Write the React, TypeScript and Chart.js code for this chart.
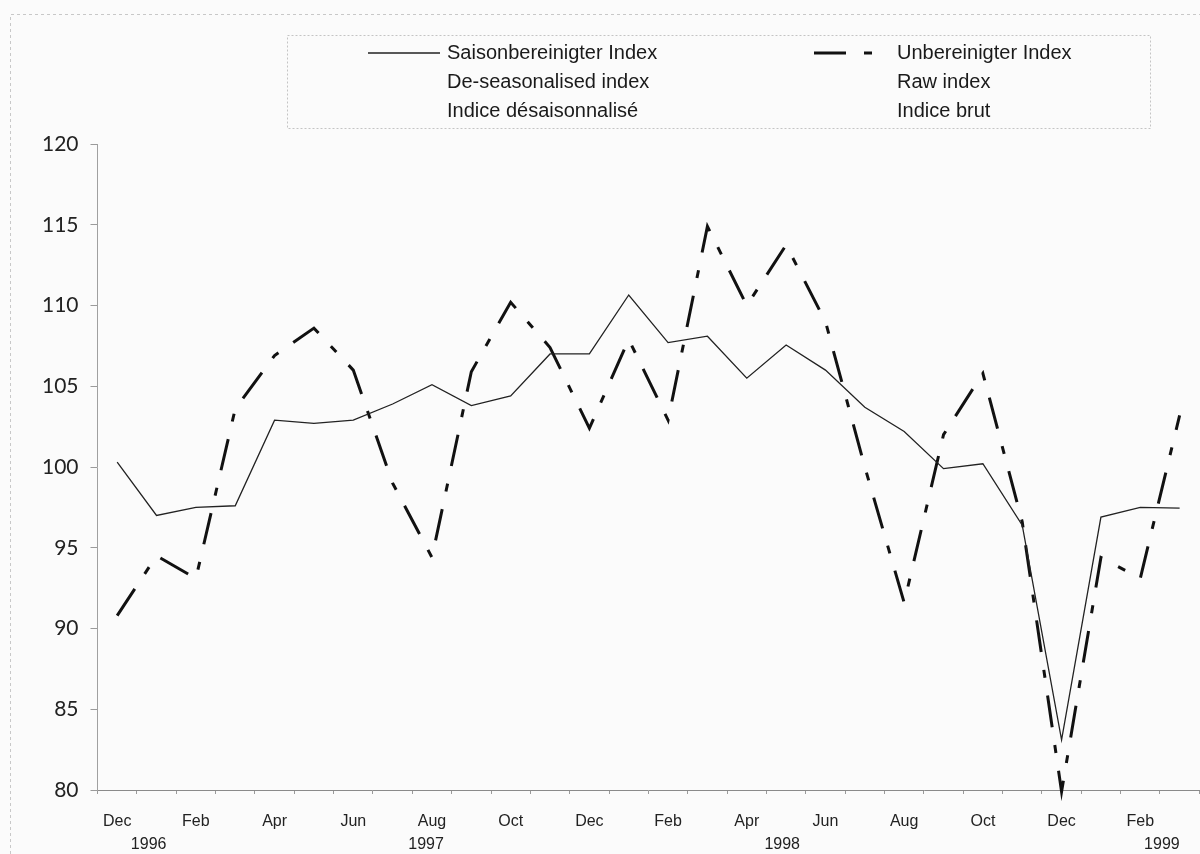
import React, { useEffect, useRef } from 'react';
import { Chart, registerables } from 'chart.js';

Chart.register(...registerables);

// Monthly categories, Dec 1996 .. Mar 1999
const monthLabels = [
  'Dec', 'Jan', 'Feb', 'Mar', 'Apr', 'May', 'Jun', 'Jul', 'Aug', 'Sep', 'Oct', 'Nov',
  'Dec', 'Jan', 'Feb', 'Mar', 'Apr', 'May', 'Jun', 'Jul', 'Aug', 'Sep', 'Oct', 'Nov',
  'Dec', 'Jan', 'Feb', 'Mar',
];

// Saisonbereinigter Index / De-seasonalised index
const deseasonalised = [
  100.3, 97.0, 97.5, 97.6, 102.9, 102.7, 102.9, 103.9, 105.1, 103.8, 104.4, 107.0,
  107.0, 110.65, 107.7, 108.1, 105.5, 107.55, 106.0, 103.7, 102.2, 99.9, 100.2, 96.4,
  83.1, 96.9, 97.5, 97.45,
];

// Unbereinigter Index / Raw index
const rawIndex = [
  90.8, 94.5, 93.1, 103.6, 106.9, 108.6, 106.0, 99.0, 94.4, 105.9, 110.2, 107.4,
  102.4, 107.9, 102.9, 114.9, 110.0, 113.75, 109.0, 100.0, 91.6, 102.0, 105.8, 96.6,
  79.9, 94.4, 93.1, 103.2,
];

// Year captions under the month labels (category positions)
const yearLabels = ['1996', '1997', '1998', '1999'];
const yearLabelPositions = [0.8, 7.85, 16.9, 26.55];

// Y axis range
const yMin = 80;
const yMax = 120;
const yStep = 5;

// Legend texts
const legendSolidText = ['Saisonbereinigter Index', 'De-seasonalised index', 'Indice désaisonnalisé'];
const legendDashedText = ['Unbereinigter Index', 'Raw index', 'Indice brut'];

const rawDash = [32, 18, 8, 18];
const textFont = "'Liberation Sans', Arial, Helvetica, sans-serif";

const decorPlugin = {
  id: 'decor',
  beforeDraw(chart: any) {
    const { ctx, width, height } = chart;
    ctx.save();
    ctx.fillStyle = '#fbfbfb';
    ctx.fillRect(0, 0, width, height);
    // faint outer frame
    ctx.strokeStyle = '#c8c8c8';
    ctx.lineWidth = 1;
    ctx.setLineDash([3, 3]);
    ctx.beginPath();
    ctx.moveTo(10.5, height);
    ctx.lineTo(10.5, 14.5);
    ctx.lineTo(width, 14.5);
    ctx.stroke();
    ctx.restore();
  },
  afterDraw(chart: any) {
    const { ctx } = chart;
    const xs = chart.scales.x;
    ctx.save();
    // year captions
    ctx.fillStyle = '#222';
    ctx.font = `16px ${textFont}`;
    ctx.textAlign = 'center';
    ctx.textBaseline = 'middle';
    yearLabels.forEach((t, i) => {
      ctx.fillText(t, xs.getPixelForValue(yearLabelPositions[i]), 845);
    });

    // legend box
    const bx = 287.5, by = 35.5, bw = 863, bh = 93;
    ctx.strokeStyle = '#c4c4c4';
    ctx.lineWidth = 1;
    ctx.setLineDash([2, 2]);
    ctx.strokeRect(bx, by, bw, bh);

    const rows = [53, 82, 111];
    const ds0 = chart.data.datasets[0];
    const ds1 = chart.data.datasets[1];

    // solid sample
    ctx.setLineDash([]);
    ctx.strokeStyle = ds0.borderColor;
    ctx.lineWidth = ds0.borderWidth;
    ctx.beginPath();
    ctx.moveTo(368, rows[0]);
    ctx.lineTo(440, rows[0]);
    ctx.stroke();

    // dashed sample
    ctx.setLineDash(ds1.borderDash);
    ctx.strokeStyle = ds1.borderColor;
    ctx.lineWidth = ds1.borderWidth;
    ctx.beginPath();
    ctx.moveTo(814, rows[0]);
    ctx.lineTo(876, rows[0]);
    ctx.stroke();
    ctx.setLineDash([]);

    ctx.fillStyle = '#1a1a1a';
    ctx.font = `20px ${textFont}`;
    ctx.textAlign = 'left';
    ctx.textBaseline = 'middle';
    legendSolidText.forEach((t, i) => ctx.fillText(t, 447, rows[i]));
    legendDashedText.forEach((t, i) => ctx.fillText(t, 897, rows[i]));
    ctx.restore();
  },
};

export default function App() {
  const canvasRef = useRef<HTMLCanvasElement | null>(null);

  useEffect(() => {
    const canvas = canvasRef.current;
    if (!canvas) return;
    const chart = new Chart(canvas, {
      type: 'line',
      data: {
        labels: monthLabels,
        datasets: [
          {
            label: 'Saisonbereinigter Index',
            data: deseasonalised,
            borderColor: '#222',
            borderWidth: 1.3,
            pointRadius: 0,
            tension: 0,
            fill: false,
          },
          {
            label: 'Unbereinigter Index',
            data: rawIndex,
            borderColor: '#111',
            borderWidth: 3,
            borderDash: rawDash,
            borderCapStyle: 'butt',
            pointRadius: 0,
            tension: 0,
            fill: false,
            clip: false,
          },
        ],
      },
      options: {
        responsive: false,
        animation: false,
        layout: { padding: { top: 144, left: 7.5, right: 0.7, bottom: 24 } },
        plugins: {
          legend: { display: false },
          tooltip: { enabled: false },
          title: { display: false },
        },
        scales: {
          x: {
            type: 'category',
            offset: true,
            grid: {
              display: true,
              drawOnChartArea: false,
              drawTicks: true,
              tickLength: 4,
              offset: true,
              color: '#9a9a9a',
            },
            border: { display: true, color: '#8a8a8a', dash: [3, 2], width: 1 },
            ticks: {
              autoSkip: false,
              maxRotation: 0,
              minRotation: 0,
              padding: 18,
              color: '#222',
              font: { family: textFont, size: 16 },
              callback: function (this: any, val: any, idx: number) {
                return idx % 2 === 0 ? this.getLabelForValue(val) : '';
              },
            },
            afterFit: (s: any) => {
              s.height = 40;
            },
          },
          y: {
            min: yMin,
            max: yMax,
            grid: {
              display: true,
              drawOnChartArea: false,
              drawTicks: true,
              tickLength: 7,
              color: '#9a9a9a',
            },
            border: { display: true, color: '#a0a0a0', dash: [3, 3], width: 1 },
            ticks: {
              stepSize: yStep,
              padding: 12,
              color: '#222',
              font: { family: "Lato, 'DejaVu Sans', sans-serif", size: 21 },
            },
            afterFit: (s: any) => {
              s.width = 90;
            },
          },
        },
      },
      plugins: [decorPlugin],
    });
    return () => chart.destroy();
  }, []);

  return (
    <div style={{ position: 'absolute', left: 0, top: 0, width: 1200, height: 854 }}>
      <canvas ref={canvasRef} width={1200} height={854} />
    </div>
  );
}
